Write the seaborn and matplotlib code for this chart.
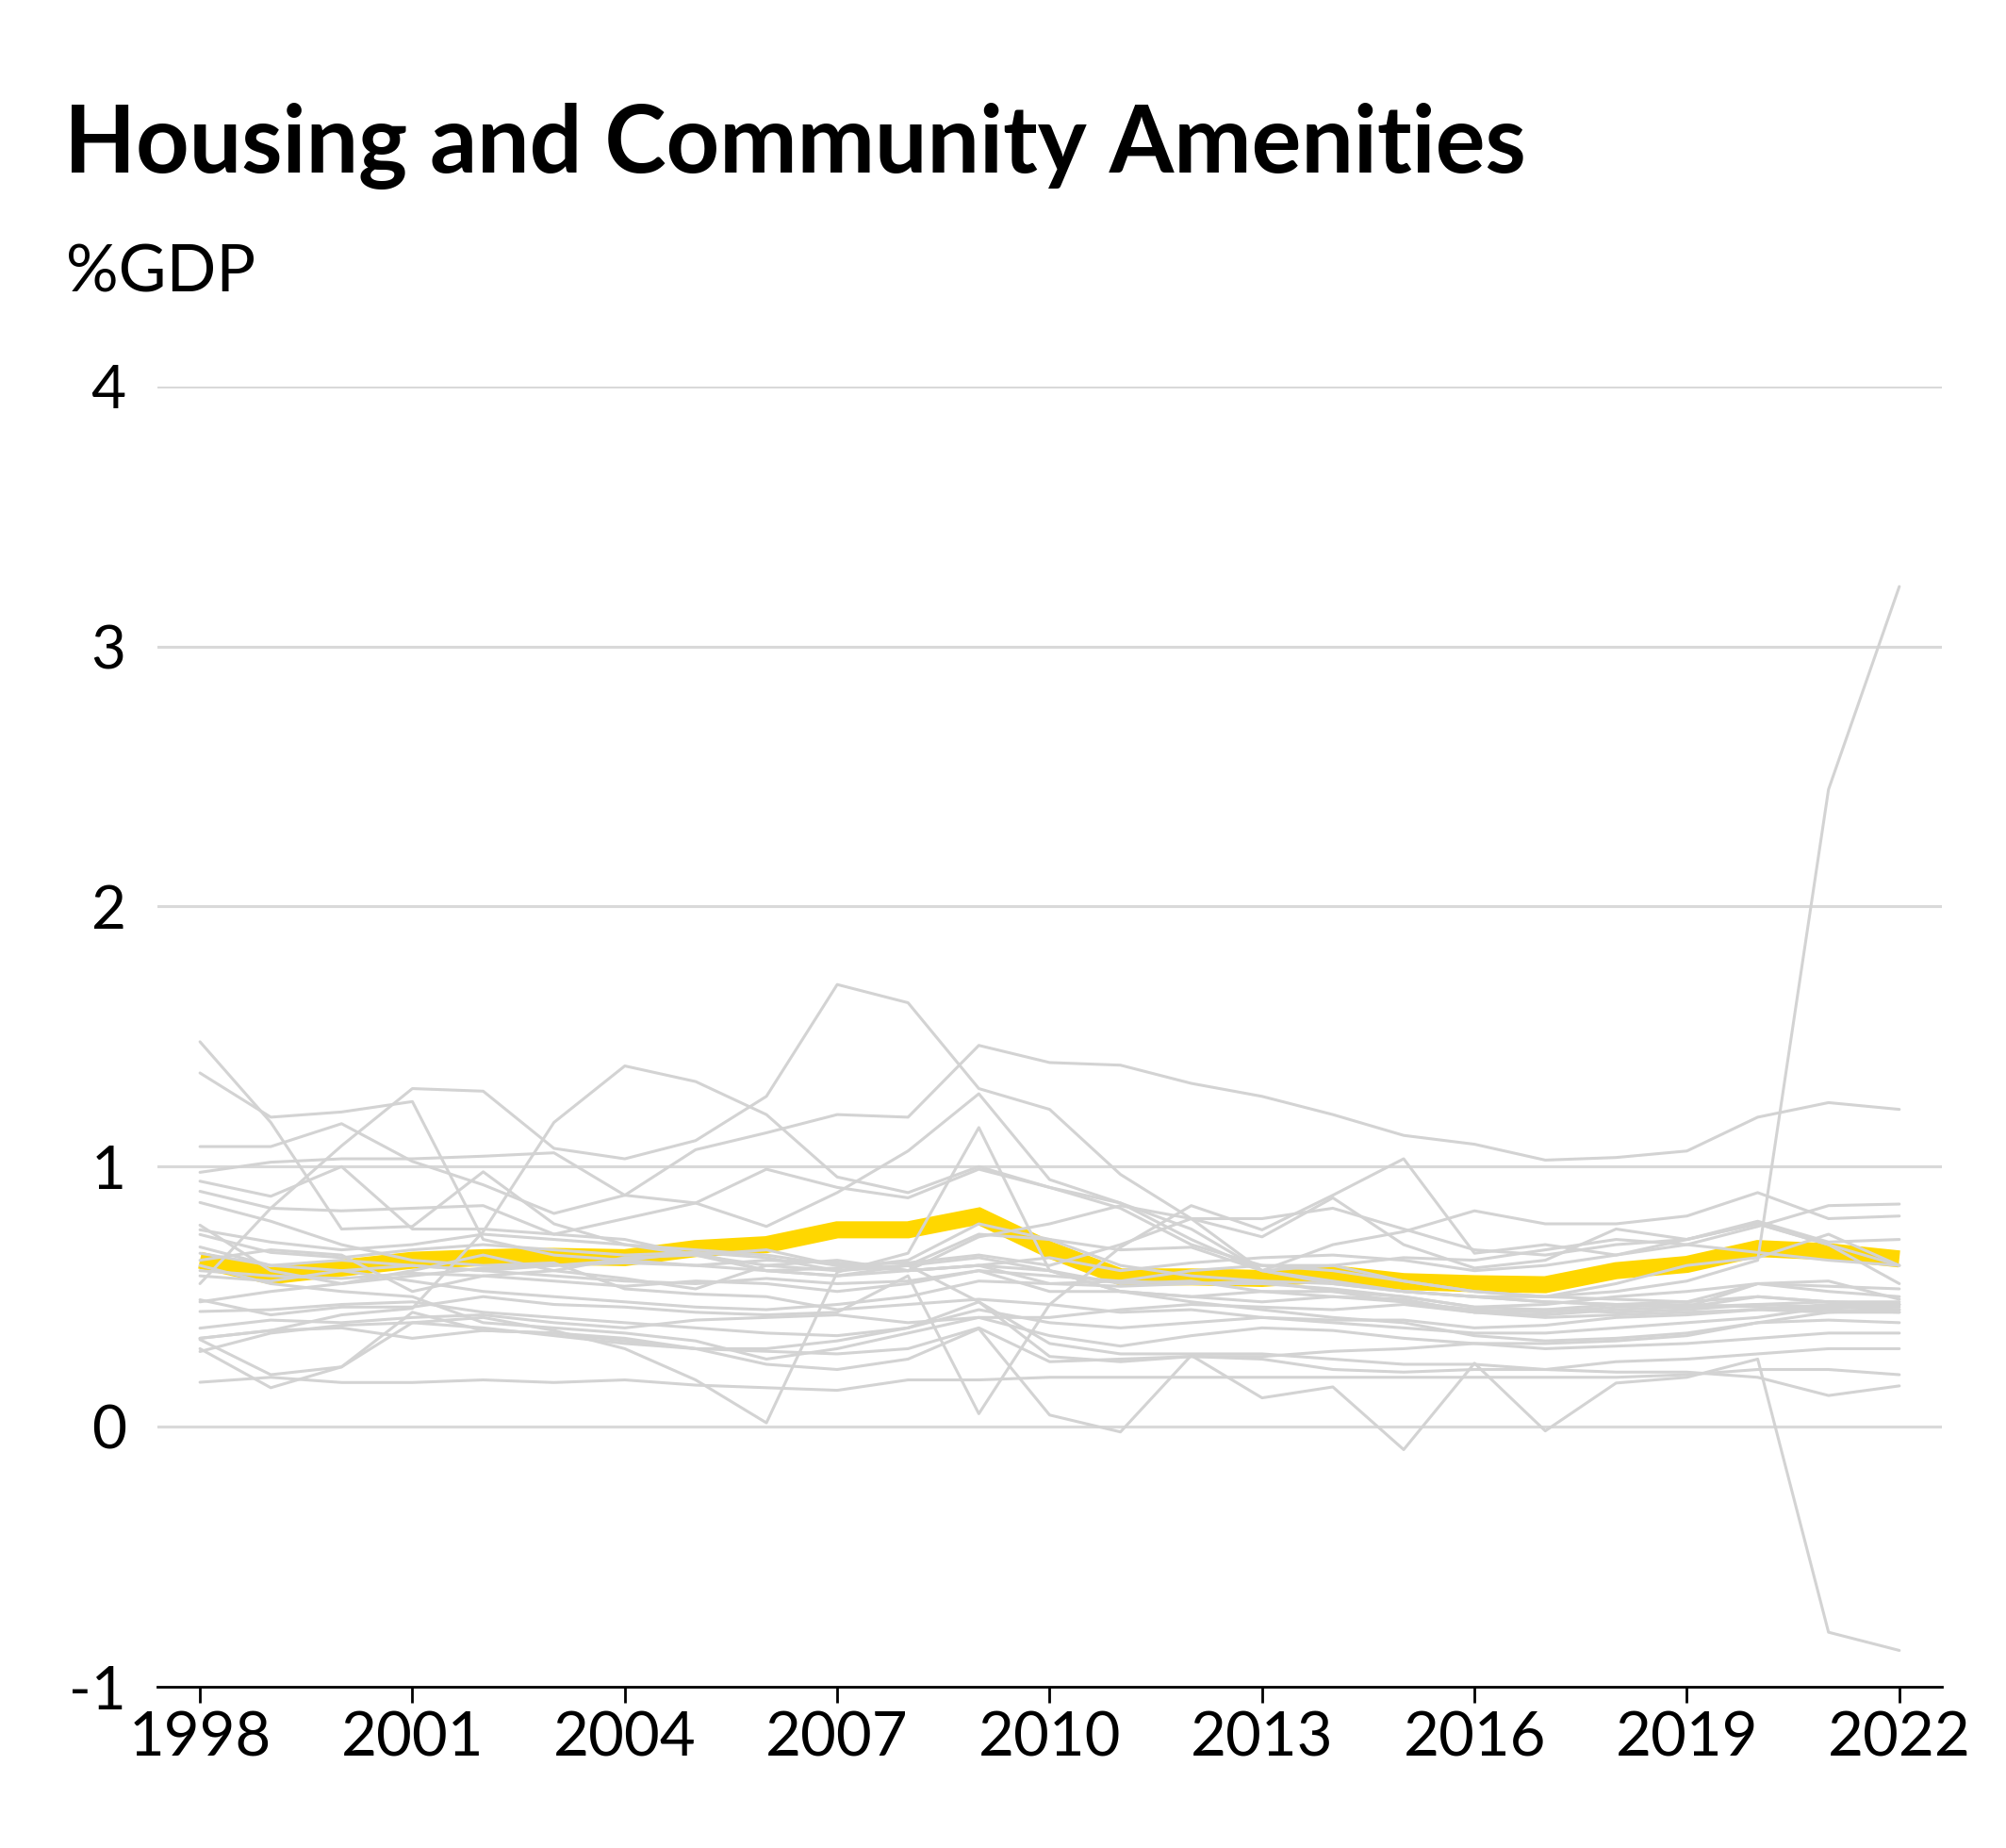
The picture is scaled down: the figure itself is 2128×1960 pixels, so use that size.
import numpy as np
import pandas as pd
import matplotlib
matplotlib.use("Agg")
import matplotlib.pyplot as plt
import seaborn as sns

years = list(range(1998, 2023))

# EU average (highlighted)
eu_average = [0.64, 0.58, 0.61, 0.64, 0.65, 0.655, 0.65, 0.685, 0.70, 0.757, 0.757, 0.81, 0.68,
              0.576, 0.576, 0.57, 0.588, 0.558, 0.55, 0.546, 0.60, 0.624, 0.685, 0.673, 0.645]

# individual member states (grey)
countries = {
    "c01": [1.48, 1.17, 0.76, 0.77, 0.98, 0.78, 0.70, 0.66, 0.62, 0.60, 0.62, 0.74, 0.72, 0.62, 0.58, 0.56, 0.52, 0.50, 0.46, 0.45, 0.44, 0.45, 0.47, 0.46, 0.45],
    "c02": [1.36, 1.19, 1.21, 1.25, 0.72, 0.66, 0.64, 0.62, 0.60, 0.58, 0.60, 0.62, 0.60, 0.55, 0.56, 0.52, 0.50, 0.48, 0.45, 0.44, 0.46, 0.47, 0.46, 0.45, 0.44],
    "c03": [0.55, 0.84, 1.08, 1.30, 1.29, 1.07, 1.03, 1.10, 1.27, 1.70, 1.63, 1.30, 1.22, 0.97, 0.80, 0.60, 0.56, 0.52, 0.50, 0.48, 0.47, 0.46, 0.55, 0.52, 0.50],
    "c04": [1.077, 1.077, 1.165, 1.02, 0.93, 0.82, 0.89, 1.065, 1.13, 1.20, 1.19, 1.466, 1.40, 1.39, 1.32, 1.27, 1.20, 1.12, 1.086, 1.025, 1.035, 1.06, 1.19, 1.246, 1.22],
    "c05": [0.34, 0.37, 0.43, 0.455, 0.75, 1.17, 1.387, 1.327, 1.20, 0.96, 0.90, 1.00, 0.92, 0.84, 0.70, 0.62, 0.60, 0.56, 0.52, 0.50, 0.49, 0.48, 0.50, 0.48, 0.47],
    "c06": [0.978, 1.017, 1.03, 1.03, 1.04, 1.053, 0.89, 0.86, 0.99, 0.92, 0.88, 0.99, 0.92, 0.86, 0.76, 0.60, 0.55, 0.52, 0.50, 0.48, 0.47, 0.46, 0.50, 0.48, 0.47],
    "c07": [0.944, 0.886, 1.00, 0.76, 0.76, 0.74, 0.80, 0.86, 0.77, 0.90, 1.06, 1.28, 0.95, 0.86, 0.72, 0.60, 0.70, 0.75, 0.83, 0.78, 0.78, 0.81, 0.90, 0.80, 0.81],
    "c08": [0.905, 0.84, 0.83, 0.84, 0.85, 0.74, 0.72, 0.66, 0.68, 0.62, 0.60, 0.62, 0.65, 0.60, 0.63, 0.65, 0.66, 0.64, 0.60, 0.62, 0.66, 0.70, 0.77, 0.85, 0.856],
    "c09": [0.862, 0.79, 0.70, 0.64, 0.62, 0.63, 0.53, 0.51, 0.50, 0.45, 0.47, 0.49, 0.47, 0.44, 0.45, 0.42, 0.41, 0.41, 0.38, 0.39, 0.42, 0.43, 0.45, 0.47, 0.47],
    "c10": [0.775, 0.60, 0.55, 0.60, 0.66, 0.60, 0.57, 0.53, 0.62, 0.64, 0.60, 0.73, 0.78, 0.85, 0.80, 0.80, 0.84, 0.76, 0.68, 0.66, 0.70, 0.72, 0.79, 0.71, 0.72],
    "c11": [0.757, 0.71, 0.68, 0.70, 0.74, 0.72, 0.70, 0.68, 0.66, 0.62, 0.63, 0.66, 0.62, 0.70, 0.80, 0.73, 0.88, 0.70, 0.61, 0.64, 0.76, 0.72, 0.78, 0.70, 0.55],
    "c12": [0.739, 0.67, 0.65, 0.68, 0.70, 0.68, 0.66, 0.67, 0.60, 0.61, 0.64, 0.78, 0.72, 0.68, 0.69, 0.60, 0.62, 0.65, 0.64, 0.68, 0.72, 0.70, 0.67, 0.64, 0.62],
    "c13": [0.691, 0.62, 0.60, 0.62, 0.60, 0.58, 0.56, 0.55, 0.57, 0.55, 0.56, 0.60, 0.58, 0.56, 0.55, 0.55, 0.53, 0.50, 0.46, 0.47, 0.50, 0.52, 0.55, 0.54, 0.53],
    "c14": [0.667, 0.62, 0.64, 0.62, 0.60, 0.62, 0.63, 0.62, 0.64, 0.63, 0.60, 0.62, 0.55, 0.54, 0.55, 0.56, 0.55, 0.52, 0.50, 0.50, 0.52, 0.56, 0.64, 2.45, 3.23],
    "c15": [0.60, 0.58, 0.57, 0.59, 0.58, 0.56, 0.54, 0.56, 0.55, 0.52, 0.55, 0.60, 0.52, 0.52, 0.50, 0.48, 0.50, 0.49, 0.44, 0.45, 0.47, 0.48, 0.55, 0.56, 0.49],
    "c16": [0.58, 0.56, 0.60, 0.56, 0.52, 0.50, 0.48, 0.46, 0.45, 0.47, 0.50, 0.56, 0.55, 0.56, 0.60, 0.62, 0.62, 0.56, 0.52, 0.50, 0.55, 0.62, 0.65, 0.74, 0.62],
    "c17": [0.488, 0.43, 0.46, 0.46, 0.50, 0.47, 0.46, 0.44, 0.43, 0.44, 0.58, 0.05, 0.47, 0.69, 0.85, 0.757, 0.89, 1.03, 0.667, 0.70, 0.66, 0.72, 0.78, 0.70, 0.62],
    "c18": [0.443, 0.45, 0.47, 0.48, 0.44, 0.42, 0.40, 0.38, 0.36, 0.35, 0.38, 0.45, 0.40, 0.38, 0.40, 0.42, 0.40, 0.38, 0.36, 0.36, 0.38, 0.40, 0.42, 0.46, 0.46],
    "c19": [0.379, 0.41, 0.40, 0.42, 0.43, 0.40, 0.38, 0.41, 0.42, 0.43, 0.40, 0.42, 0.42, 0.45, 0.47, 0.46, 0.45, 0.47, 0.44, 0.43, 0.45, 0.46, 0.47, 0.48, 0.48],
    "c20": [0.34, 0.37, 0.38, 0.34, 0.37, 0.36, 0.33, 0.30, 0.29, 0.28, 0.30, 0.38, 0.25, 0.26, 0.27, 0.27, 0.29, 0.30, 0.32, 0.32, 0.33, 0.35, 0.40, 0.41, 0.40],
    "c21": [0.335, 0.20, 0.23, 0.40, 0.42, 0.37, 0.30, 0.18, 0.015, 0.594, 0.667, 1.15, 0.60, 0.52, 0.48, 0.45, 0.42, 0.40, 0.35, 0.33, 0.34, 0.36, 0.40, 0.44, 0.45],
    "c22": [0.289, 0.36, 0.39, 0.40, 0.38, 0.35, 0.32, 0.30, 0.30, 0.33, 0.38, 0.48, 0.32, 0.28, 0.28, 0.28, 0.26, 0.24, 0.24, 0.22, 0.25, 0.26, 0.28, 0.30, 0.30],
    "c23": [0.171, 0.19, 0.17, 0.17, 0.18, 0.17, 0.18, 0.16, 0.15, 0.14, 0.18, 0.18, 0.19, 0.19, 0.19, 0.19, 0.19, 0.19, 0.19, 0.19, 0.19, 0.20, 0.22, 0.22, 0.20],
    "c24": [0.30, 0.15, 0.23, 0.44, 0.37, 0.36, 0.34, 0.30, 0.24, 0.22, 0.26, 0.377, 0.045, -0.02, 0.274, 0.111, 0.153, -0.088, 0.244, -0.016, 0.168, 0.19, 0.26, -0.79, -0.86],
    "c25": [0.48, 0.52, 0.55, 0.58, 0.61, 0.62, 0.64, 0.67, 0.65, 0.60, 0.62, 0.65, 0.60, 0.52, 0.50, 0.52, 0.52, 0.48, 0.44, 0.42, 0.43, 0.44, 0.45, 0.44, 0.44],
    "c26": [0.62, 0.55, 0.52, 0.50, 0.40, 0.38, 0.36, 0.33, 0.26, 0.30, 0.36, 0.42, 0.35, 0.31, 0.35, 0.38, 0.37, 0.34, 0.32, 0.30, 0.31, 0.32, 0.34, 0.36, 0.36],
    "c27": [0.64, 0.68, 0.66, 0.52, 0.58, 0.60, 0.65, 0.66, 0.60, 0.58, 0.62, 0.48, 0.27, 0.25, 0.27, 0.26, 0.22, 0.21, 0.22, 0.22, 0.21, 0.21, 0.19, 0.12, 0.157],
}

year_ticks = list(range(1998, 2023, 3))
y_ticks = [-1, 0, 1, 2, 3, 4]

df = pd.DataFrame(
    [(c, y, v) for c, vals in countries.items() for y, v in zip(years, vals)],
    columns=["country", "year", "value"],
)
eu = pd.DataFrame({"year": years, "value": eu_average})

sns.set_style("white")
plt.rcParams["font.family"] = ["Lato", "DejaVu Sans"]
plt.rcParams["axes.unicode_minus"] = False
plt.rcParams["text.color"] = "black"
plt.rcParams["xtick.color"] = "black"
plt.rcParams["ytick.color"] = "black"

fig = plt.figure(figsize=(10.64, 9.8), dpi=200)
ax = fig.add_axes([0.0785, 0.0872, 0.8895, 0.7038])

for y in y_ticks[1:]:
    ax.axhline(y, color="#d9d9d9", lw=1.1, zorder=0)

sns.lineplot(data=eu, x="year", y="value", color="#FFD700", lw=6.5, ax=ax, zorder=1,
             solid_joinstyle="miter", solid_capstyle="butt")
sns.lineplot(data=df, x="year", y="value", units="country", estimator=None,
             color="#d3d3d3", lw=1.1, ax=ax, zorder=2, legend=False)

ax.set_xlim(1997.4, 2022.6)
ax.set_ylim(-1, 4)
ax.set_xticks(year_ticks)
ax.set_yticks(y_ticks)
ax.set_xlabel("")
ax.set_ylabel("")
for s in ["top", "right", "left"]:
    ax.spines[s].set_visible(False)
ax.spines["bottom"].set_color("black")
ax.spines["bottom"].set_linewidth(1.0)
ax.tick_params(axis="x", length=6, width=1.0, color="black", labelsize=23.5, pad=3,
               bottom=True, labelcolor="black")
ax.tick_params(axis="y", length=0, labelsize=23, pad=12, labelcolor="black")

fig.text(0.032, 0.9066, "Housing and Community Amenities", fontsize=35.5, fontweight="bold",
         ha="left", va="baseline", color="black")
fig.text(0.033, 0.842, "%GDP", fontsize=25, ha="left", va="baseline", color="black")

fig.savefig("out.png", dpi=200, facecolor="white")
